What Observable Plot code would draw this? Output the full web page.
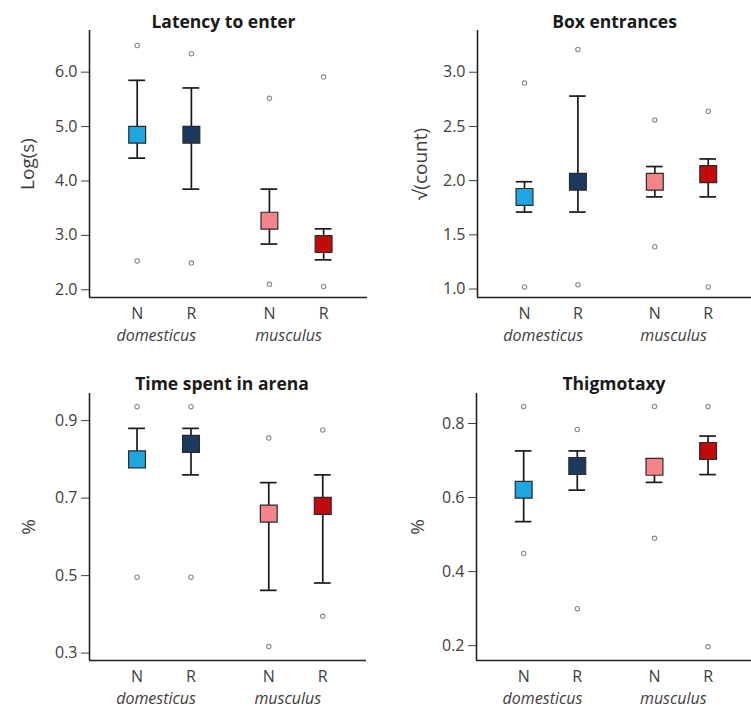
<!DOCTYPE html>
<html>
<head>
<meta charset="utf-8">
<script src="https://cdn.jsdelivr.net/npm/d3@7"></script>
<script src="https://cdn.jsdelivr.net/npm/@observablehq/plot@0.6"></script>
<style>
  html, body { margin: 0; padding: 0; background: #fff; }
  #wrap { position: relative; width: 751px; height: 709px; overflow: hidden; }
  .panel { position: absolute; }
  .panel svg { display: block; }
</style>
</head>
<body>
<div id="wrap"></div>
<script>
// ---------- data ----------
const conditions = ["N", "R", "N", "R"];
const species = ["domesticus", "domesticus", "musculus", "musculus"];
const speciesList = ["domesticus", "musculus"];

// Latency to enter
const latencyMean  = [4.85, 4.85, 3.27, 2.84];
const latencyHi    = [5.85, 5.71, 3.85, 3.12];
const latencyLo    = [4.42, 3.85, 2.84, 2.55];
const latencyOutHi = [6.49, 6.34, 5.52, 5.91];
const latencyOutLo = [2.53, 2.49, 2.10, 2.06];
const latencyTicks = [2, 3, 4, 5, 6];

// Box entrances
const boxMean  = [1.85, 1.99, 1.99, 2.06];
const boxHi    = [1.99, 2.78, 2.13, 2.20];
const boxLo    = [1.71, 1.71, 1.85, 1.85];
const boxOutHi = [2.90, 3.21, 2.56, 2.64];
const boxOutLo = [1.02, 1.04, 1.39, 1.02];
const boxTicks = [1.0, 1.5, 2.0, 2.5, 3.0];

// Time spent in arena
const arenaMean  = [0.80, 0.84, 0.66, 0.68];
const arenaHi    = [0.88, 0.88, 0.74, 0.76];
const arenaLo    = [0.785, 0.76, 0.462, 0.481];
const arenaOutHi = [0.936, 0.936, 0.855, 0.876];
const arenaOutLo = [0.496, 0.496, 0.317, 0.395];
const arenaTicks = [0.3, 0.5, 0.7, 0.9];

// Thigmotaxy
const thigMean  = [0.621, 0.685, 0.683, 0.726];
const thigHi    = [0.726, 0.726, 0.704, 0.766];
const thigLo    = [0.535, 0.620, 0.641, 0.662];
const thigOutHi = [0.846, 0.784, 0.846, 0.846];
const thigOutLo = [0.449, 0.300, 0.490, 0.197];
const thigTicks = [0.2, 0.4, 0.6, 0.8];

// ---------- styling ----------
const palette = ["#1ea6e0", "#1d3a5e", "#f2848a", "#c30a0a"];
const FONT = "'Open Sans', Lato, sans-serif";
const GAP = 2.44;   // distance between species groups (in slot units)
const CAP = 0.155;  // half width of whisker caps
const XDOM = [-0.88, 4.25];

function buildRows(mean, hi, lo, outHi, outLo) {
  return conditions.map((c, i) => {
    const g = speciesList.indexOf(species[i]);
    const ci = i - g * 2;
    return {key: species[i] + c, cond: c, sp: species[i],
            x: g * GAP + ci, mean: mean[i], hi: hi[i], lo: lo[i], outHi: outHi[i], outLo: outLo[i]};
  });
}

function panel(o) {
  const rows = buildRows(o.mean, o.hi, o.lo, o.outHi, o.outLo);
  const labelMap = new Map(rows.map(d => [d.x.toFixed(2), d.cond]));
  const outliers = rows.flatMap(d => [{x: d.x, y: d.outHi}, {x: d.x, y: d.outLo}]);
  const chart = Plot.plot({
    width: o.width, height: o.height,
    marginLeft: o.ml, marginRight: o.mr, marginTop: o.mt, marginBottom: o.mb,
    style: {fontFamily: FONT, fontSize: "16px", color: "#404040", background: "transparent", overflow: "visible"},
    x: {domain: XDOM, ticks: rows.map(d => d.x), tickFormat: d => labelMap.get((+d).toFixed(2)) ?? "",
        tickSize: 0, tickPadding: 10, label: null},
    y: {domain: o.ydom, ticks: o.ticks, tickFormat: d3.format(".1f"), tickSize: 8, tickPadding: 4, label: null},
    color: {domain: rows.map(d => d.key), range: palette},
    marks: [
      Plot.ruleX([XDOM[0]], {stroke: "#222", strokeWidth: 1.6}),
      Plot.ruleY([o.ydom[0]], {stroke: "#222", strokeWidth: 1.6}),
      Plot.dot(outliers, {x: "x", y: "y", r: 2.2, stroke: "#8a8a8a", strokeWidth: 1.1, fill: "white"}),
      Plot.ruleX(rows, {x: "x", y1: "lo", y2: "hi", stroke: "#1a1a1a", strokeWidth: 1.7}),
      Plot.ruleY(rows, {y: "hi", x1: d => d.x - CAP, x2: d => d.x + CAP, stroke: "#1a1a1a", strokeWidth: 1.7}),
      Plot.ruleY(rows, {y: "lo", x1: d => d.x - CAP, x2: d => d.x + CAP, stroke: "#1a1a1a", strokeWidth: 1.7}),
      Plot.dot(rows, {x: "x", y: "mean", symbol: "square", r: 9.5, fill: "key", stroke: "#2a2a2a", strokeWidth: 1.2}),
      Plot.text(speciesList, {x: (d, i) => i * GAP + 0.5, frameAnchor: "bottom", dy: 38, dx: -8,
        lineAnchor: "middle", fontStyle: "italic", fontSize: 16, fill: "#404040"}),
      Plot.text([o.title], {frameAnchor: "top", dy: o.titleDy, dx: o.titleDx, lineAnchor: "middle", textAnchor: "middle",
        fontWeight: "bold", fontSize: 17.5, fill: "#1a1a1a"}),
      Plot.text([o.ylabel], {frameAnchor: "left", dx: o.ylabDx, rotate: -90, textAnchor: "middle", lineAnchor: "middle",
        fontSize: 19, fill: "#404040"})
    ]
  });
  const div = document.createElement("div");
  div.className = "panel";
  div.style.left = o.left + "px";
  div.style.top = o.top + "px";
  div.appendChild(chart);
  document.getElementById("wrap").appendChild(div);
}

panel({title: "Latency to enter", ylabel: "Log(s)",
  mean: latencyMean, hi: latencyHi, lo: latencyLo, outHi: latencyOutHi, outLo: latencyOutLo,
  ticks: latencyTicks, ydom: [1.858, 6.766],
  left: 0, top: 0, width: 375, height: 350, ml: 89, mr: 8, mt: 30, mb: 53,
  titleDy: -8, titleDx: -5, ylabDx: -62});

panel({title: "Box entrances", ylabel: "√(count)",
  mean: boxMean, hi: boxHi, lo: boxLo, outHi: boxOutHi, outLo: boxOutLo,
  ticks: boxTicks, ydom: [0.922, 3.385],
  left: 375, top: 0, width: 376, height: 350, ml: 102, mr: 0, mt: 30, mb: 53,
  titleDy: -8, titleDx: 0, ylabDx: -57});

panel({title: "Time spent in arena", ylabel: "%",
  mean: arenaMean, hi: arenaHi, lo: arenaLo, outHi: arenaOutHi, outLo: arenaOutLo,
  ticks: arenaTicks, ydom: [0.281, 0.970],
  left: 0, top: 350, width: 375, height: 359, ml: 89, mr: 9, mt: 43, mb: 49,
  titleDy: -9, titleDx: -6, ylabDx: -61});

panel({title: "Thigmotaxy", ylabel: "%",
  mean: thigMean, hi: thigHi, lo: thigLo, outHi: thigOutHi, outLo: thigOutLo,
  ticks: thigTicks, ydom: [0.160, 0.881],
  left: 375, top: 350, width: 376, height: 359, ml: 101, mr: 0, mt: 43, mb: 49,
  titleDy: -9, titleDx: 0, ylabDx: -59});
</script>
</body>
</html>
